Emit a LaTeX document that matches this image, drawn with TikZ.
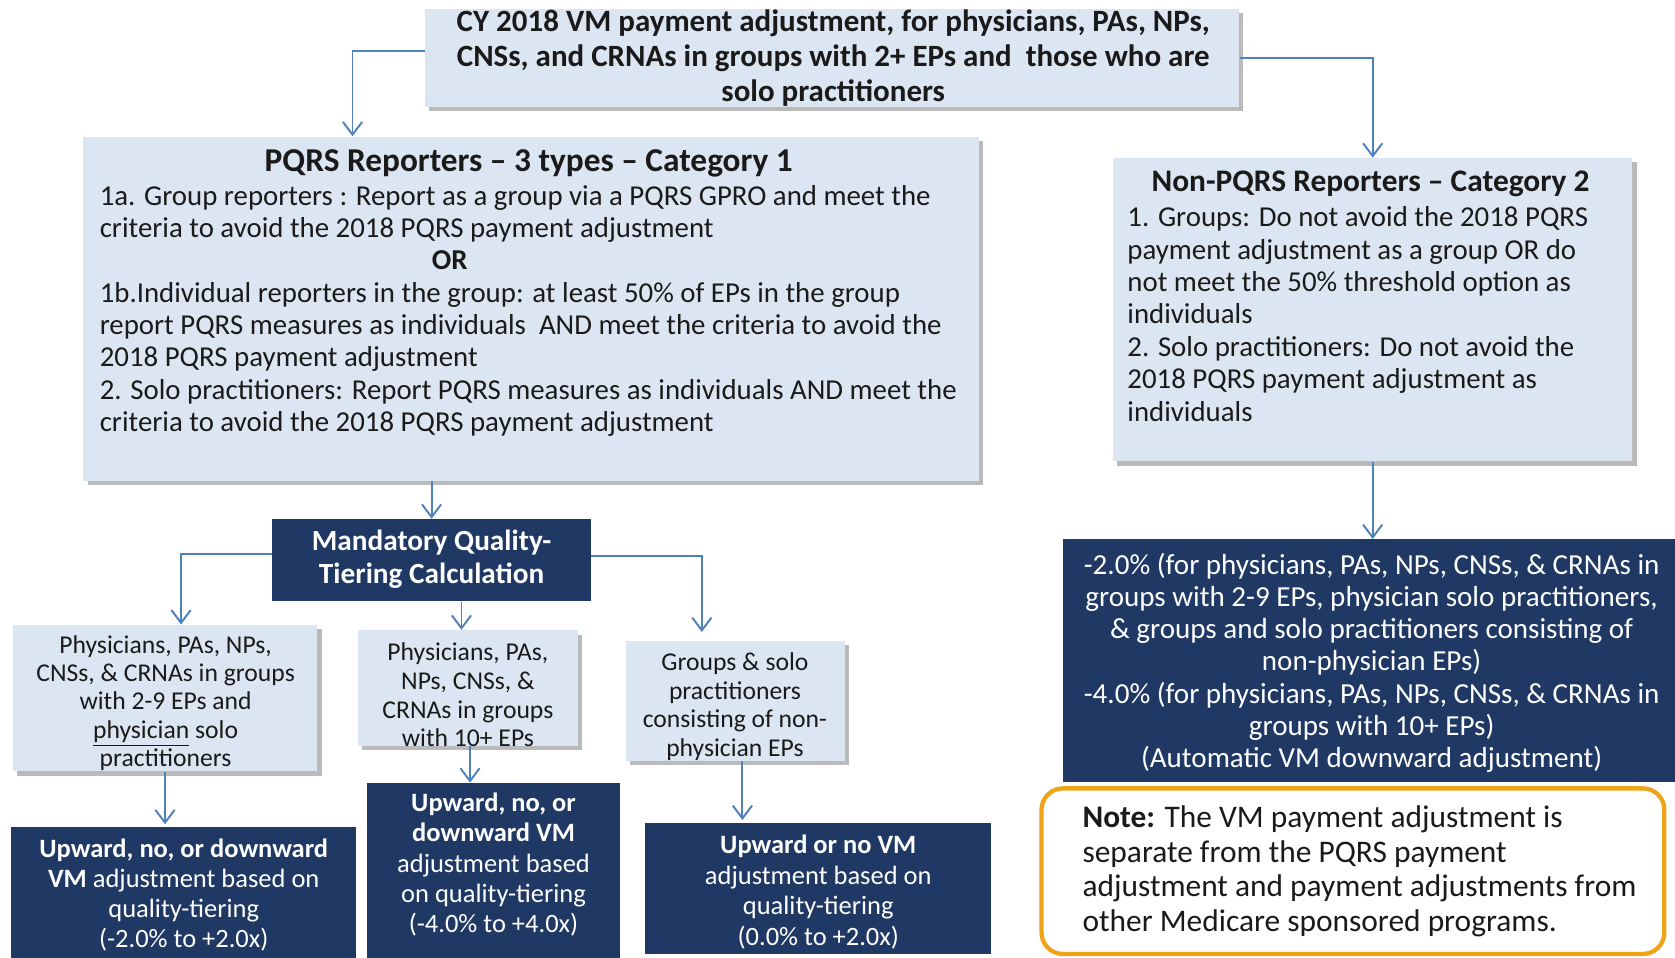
\documentclass[tikz,border=0pt]{standalone}
\usepackage{fontspec}
\setmainfont{Carlito}
\usetikzlibrary{arrows.meta,shadows,fit}
\definecolor{lightbg}{HTML}{DCE6F2}
\definecolor{navy}{HTML}{1F3864}
\definecolor{arrowblue}{HTML}{4F81BD}
\definecolor{noteorange}{HTML}{EDA419}
\definecolor{txt}{HTML}{1A1A1A}
\newcommand{\fsz}[2]{\fontsize{#1}{#2}\selectfont}
\begin{document}
\begin{tikzpicture}[x=0.5pt,y=-0.5pt,
  lightbox/.style={fill=lightbg, draw=none, inner sep=0pt,
    drop shadow={shadow xshift=2pt,shadow yshift=-2pt,fill=black!45,opacity=0.6}},
  darkbox/.style={fill=navy, draw=none, inner sep=0pt},
  notebox/.style={fill=white, draw=noteorange, line width=2pt, rounded corners=10pt, inner sep=0pt},
  lbl/.style={inner sep=0pt, text=txt, align=center},
  dlbl/.style={inner sep=0pt, text=white, align=center},
  arr/.style={draw=arrowblue, line width=0.9pt, -{Straight Barb[length=6pt,width=9pt]}},
]
\fill[white] (0,0) rectangle (1568,896);
\useasboundingbox (0,0) rectangle (1568,896);

% boxes
\node[lightbox, fit={(398,8) (1160,100)}] (top) {};
\node[lightbox, fit={(78,128) (916,450)}] (pqrs) {};
\node[lightbox, fit={(1042,148) (1528,432)}] (npqrs) {};
\node[darkbox, fit={(255,486) (553,563)}] (mand) {};
\node[lightbox, fit={(12,585) (297,722)}] (ba) {};
\node[lightbox, fit={(335,590) (541,698)}] (bb) {};
\node[lightbox, fit={(586,600) (791,712)}] (bc) {};
\node[darkbox, fit={(10,774) (333,900)}] (da) {};
\node[darkbox, fit={(344,733) (580,900)}] (db) {};
\node[darkbox, fit={(604,770) (928,893)}] (dc) {};
\node[darkbox, fit={(995,505) (1570,732)}] (dr) {};
\node[notebox, fit={(975,738) (1558,893)}] (note) {};

% texts
\node[lbl, font=\bfseries\fsz{14.5}{16.25}] (topT) at (780,54.5)
  {CY 2018 VM payment adjustment, for physicians, PAs, NPs,\\CNSs, and CRNAs in groups with 2+ EPs and\ \ those who are\\solo practitioners};

\node[lbl, font=\bfseries\fsz{15.6}{17}] (pqrsH) at (495,153) {PQRS Reporters – 3 types – Category 1};
\node[lbl, align=left, anchor=west, font=\fsz{13.5}{15.15}] (pqrsB) at (93,291)
  {1a. Group reporters : Report as a group via a PQRS GPRO and meet the\\
   criteria to avoid the 2018 PQRS payment adjustment\\
   \hspace*{155.5pt}\textbf{OR}\\
   1b.Individual reporters in the group: at least 50\% of EPs in the group\\
   report PQRS measures as individuals\ \ AND meet the criteria to avoid the\\
   2018 PQRS payment adjustment\\
   2. Solo practitioners: Report PQRS measures as individuals AND meet the\\
   criteria to avoid the 2018 PQRS payment adjustment};

\node[lbl, font=\bfseries\fsz{14.7}{16.5}] (npqrsH) at (1283,172) {Non-PQRS Reporters – Category 2};
\node[lbl, align=left, anchor=west, font=\fsz{13.5}{15.15}] (npqrsB) at (1055,294)
  {1. Groups: Do not avoid the 2018 PQRS\\
   payment adjustment as a group OR do\\
   not meet the 50\% threshold option as\\
   individuals\\
   2. Solo practitioners: Do not avoid the\\
   2018 PQRS payment adjustment as\\
   individuals};

\node[dlbl, font=\bfseries\fsz{13.7}{15.5}] (mandT) at (404,523.5) {Mandatory Quality-\\Tiering Calculation};

\node[lbl, font=\fsz{12}{13.25}] (baT) at (155,658)
  {Physicians, PAs, NPs,\\CNSs, \& CRNAs in groups\\with 2-9 EPs and\\\underline{physician} solo\\practitioners};
\node[lbl, font=\fsz{12}{13.5}] (bbT) at (438,650.5)
  {Physicians, PAs,\\NPs, CNSs, \&\\CRNAs in groups\\with 10+ EPs};
\node[lbl, font=\fsz{12}{13.5}] (bcT) at (688,661.5)
  {Groups \& solo\\practitioners\\consisting of non-\\physician EPs};

\node[dlbl, font=\fsz{12.4}{14}] (daT) at (172,838)
  {\textbf{Upward, no, or downward}\\\textbf{VM} adjustment based on\\quality-tiering\\(-2.0\% to +2.0x)};
\node[dlbl, font=\fsz{12.4}{14.15}] (dbT) at (462,809.5)
  {\textbf{Upward, no, or}\\\textbf{downward VM}\\adjustment based\\on quality-tiering\\(-4.0\% to +4.0x)};
\node[dlbl, font=\fsz{12.4}{14.3}] (dcT) at (766,835)
  {\textbf{Upward or no VM}\\adjustment based on\\quality-tiering\\(0.0\% to +2.0x)};
\node[dlbl, font=\fsz{13.6}{15.1}] (drT) at (1284,620.5)
  {-2.0\% (for physicians, PAs, NPs, CNSs, \& CRNAs in\\
   groups with 2-9 EPs, physician solo practitioners,\\
   \& groups and solo practitioners consisting of\\
   non-physician EPs)\\
   -4.0\% (for physicians, PAs, NPs, CNSs, \& CRNAs in\\
   groups with 10+ EPs)\\
   (Automatic VM downward adjustment)};
\node[lbl, align=left, anchor=west, font=\fsz{14.7}{16.2}] (noteT) at (1013,815.5)
  {\textbf{Note:} The VM payment adjustment is\\
   separate from the PQRS payment\\
   adjustment and payment adjustments from\\
   other Medicare sponsored programs.};

% connectors
\draw[arr] ([yshift=3pt]top.west) -| ([xshift=-83.5pt]pqrs.north);
\draw[arr] (top.east) -| (npqrs.north);
\draw[arr] (pqrs.south -| mand.north) -- (mand.north);
\draw[arr] ([yshift=3pt]mand.west) -| ([xshift=7.5pt]ba.north);
\draw[arr] ([xshift=-3pt]bb.north |- mand.south) -- ([xshift=-3pt]bb.north);
\draw[arr, shorten >=4pt] ([yshift=2pt]mand.east) -| ([xshift=-15.75pt]bc.north);
\draw[arr, shorten >=1pt] (ba.south) -- (ba.south |- da.north);
\draw[arr] ([xshift=1pt]bb.south) -- ([xshift=1pt]bb.south |- db.north);
\draw[arr, shorten >=1pt] ([xshift=3.25pt]bc.south) -- ([xshift=3.25pt]bc.south |- dc.north);
\draw[arr] (npqrs.south) -- (npqrs.south |- dr.north);
\end{tikzpicture}
\end{document}
